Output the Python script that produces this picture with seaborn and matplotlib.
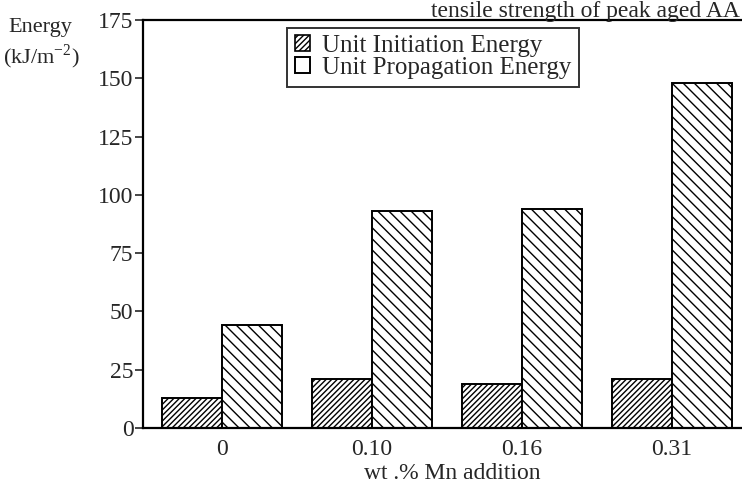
import pandas as pd
import numpy as np
import matplotlib
matplotlib.use('Agg')
import matplotlib.pyplot as plt
from matplotlib.patches import Patch
import seaborn as sns

# valores
mn_addition = ['0', '0.10', '0.16', '0.31']
initiation_energy = [13, 21, 19, 21]
propagation_energy = [44, 93, 94, 148]
series_names = ['Unit Initiation Energy', 'Unit Propagation Energy']
y_ticks = [0, 25, 50, 75, 100, 125, 150, 175]

df = pd.DataFrame({
    'mn': mn_addition * 2,
    'energia': initiation_energy + propagation_energy,
    'serie': [series_names[0]] * 4 + [series_names[1]] * 4,
})

sns.set_style('white')
plt.rcParams['font.family'] = 'serif'
plt.rcParams['font.serif'] = ['Liberation Serif', 'DejaVu Serif']
plt.rcParams['mathtext.fontset'] = 'custom'
plt.rcParams['mathtext.rm'] = 'Liberation Serif'
plt.rcParams['hatch.linewidth'] = 1.0

fig = plt.figure(figsize=(7.42, 5.04), dpi=100)
ax = fig.add_axes([0.193, 0.151, 0.834, 0.809])

sns.barplot(data=df, x='mn', y='energia', hue='serie', ax=ax,
            palette=['white', 'white'], edgecolor='black', linewidth=1.4,
            width=0.8, legend=False, saturation=1)

hatches = ['//////', '\\\\\\']
for cont, h in zip(ax.containers, hatches):
    for bar in cont:
        bar.set_hatch(h)
        bar.set_edgecolor('black')

ax.set_xlim(-0.527, 3.6)
ax.set_ylim(0, 175)
ax.set_yticks(y_ticks)
ax.tick_params(axis='y', direction='out', length=6, width=1.2, labelsize=17, pad=1, left=True)
ax.tick_params(axis='x', length=0, labelsize=17, pad=8)
ax.set_xlabel('wt .% Mn addition', fontsize=17, labelpad=2)
ax.set_ylabel('')

for s in ['left', 'top', 'bottom']:
    ax.spines[s].set_linewidth(1.6)
    ax.spines[s].set_color('black')
ax.spines['right'].set_visible(False)

handles = [Patch(facecolor='white', edgecolor='black', hatch='//////', linewidth=1.2),
           Patch(facecolor='white', edgecolor='black', linewidth=1.4)]
leg = ax.legend(handles, series_names, loc='upper left', bbox_to_anchor=(0.387, 0.945),
                bbox_transform=fig.transFigure, fontsize=18, frameon=True, fancybox=False,
                handlelength=0.6, handleheight=0.6, handletextpad=0.5, borderpad=0.3,
                labelspacing=0.0, borderaxespad=0)
leg.get_frame().set_edgecolor('black')
leg.get_frame().set_linewidth(1.4)

fig.text(0.055, 0.965, 'Energy', fontsize=16, ha='center', va='top')
fig.text(0.055, 0.915, r'(kJ/m$^{\mathregular{-2}}$)', fontsize=16, ha='center', va='top')
fig.text(0.997, 0.999, 'tensile strength of peak aged AA', fontsize=17, ha='right', va='top')

plt.savefig('out.png', dpi=100)
